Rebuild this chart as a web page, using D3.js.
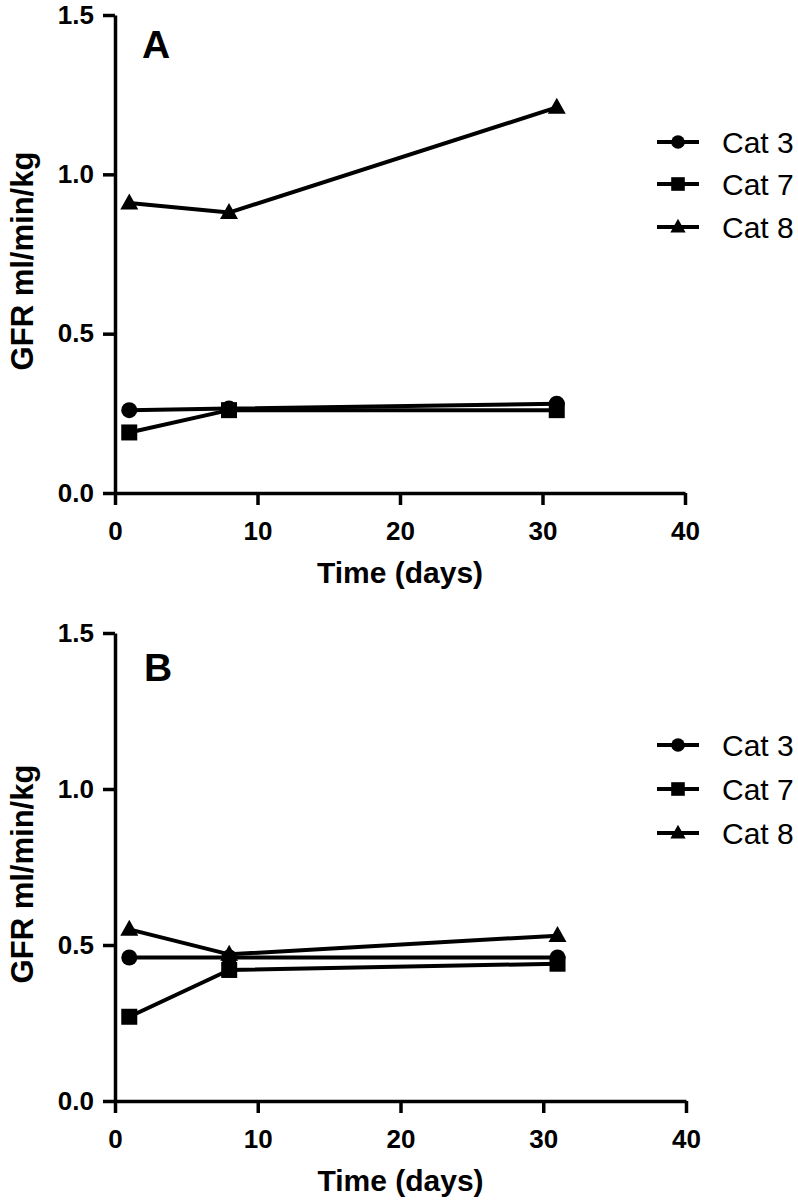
<!DOCTYPE html>
<html>
<head>
<meta charset="utf-8">
<script src="https://cdn.jsdelivr.net/npm/d3@7"></script>
<style>
  html, body { margin: 0; padding: 0; background: #fff; }
  svg { display: block; }
  text { font-family: "Liberation Sans", Arial, Helvetica, sans-serif; fill: #000; }
</style>
</head>
<body>
<svg id="chart" width="798" height="1200"></svg>
<script>
// ---- Data ----
const days = [1, 8, 31];
const seriesNames = ["Cat 3", "Cat 7", "Cat 8"];
const seriesSymbols = ["circle", "square", "triangle"];

const panelA_cat3 = [0.26, 0.265, 0.28];
const panelA_cat7 = [0.19, 0.26, 0.26];
const panelA_cat8 = [0.91, 0.88, 1.21];

const panelB_cat3 = [0.46, 0.46, 0.46];
const panelB_cat7 = [0.27, 0.42, 0.44];
const panelB_cat8 = [0.55, 0.47, 0.53];

const xTicks = [0, 10, 20, 30, 40];
const yTicks = [0, 0.5, 1.0, 1.5];
const panelLabels = ["A", "B"];
const xTitle = "Time (days)";
const yTitle = "GFR ml/min/kg";

// ---- Layout ----
const panels = [
  { label: panelLabels[0], series: [panelA_cat3, panelA_cat7, panelA_cat8],
    top: 15, bottom: 493, left: 115, right: 685,
    labelX: 142, labelY: 58, legendY: [142, 184, 227] },
  { label: panelLabels[1], series: [panelB_cat3, panelB_cat7, panelB_cat8],
    top: 633, bottom: 1101, left: 115, right: 686,
    labelX: 144, labelY: 681, legendY: [745, 789, 833] }
];

const svg = d3.select("#chart");

function drawSymbol(g, type, cx, cy, scale) {
  scale = scale || 1;
  if (type === "circle") {
    g.append("circle").attr("cx", cx).attr("cy", cy).attr("r", 8 * scale).attr("fill", "#000");
  } else if (type === "square") {
    const s = 16 * scale;
    g.append("rect").attr("x", cx - s / 2).attr("y", cy - s / 2).attr("width", s).attr("height", s).attr("fill", "#000");
  } else {
    const w = 18 * scale, h = 16 * scale;
    g.append("path")
      .attr("d", `M${cx},${cy - h * 0.6} L${cx + w / 2},${cy + h * 0.4} L${cx - w / 2},${cy + h * 0.4} Z`)
      .attr("fill", "#000");
  }
}

panels.forEach(p => {
  const g = svg.append("g");
  const x = d3.scaleLinear().domain([0, 40]).range([p.left, p.right]);
  const y = d3.scaleLinear().domain([0, 1.5]).range([p.bottom, p.top]);

  // axes
  const yAxis = d3.axisLeft(y).tickValues(yTicks).tickFormat(d3.format(".1f"))
    .tickSizeInner(12).tickSizeOuter(0).tickPadding(9);
  const xAxis = d3.axisBottom(x).tickValues(xTicks).tickFormat(d3.format("d"))
    .tickSizeInner(12).tickSizeOuter(0).tickPadding(17);

  const ya = g.append("g").attr("transform", `translate(${p.left},0)`).call(yAxis);
  const xa = g.append("g").attr("transform", `translate(0,${p.bottom})`).call(xAxis);
  [ya, xa].forEach(a => {
    a.selectAll("path.domain").attr("stroke", "#000").attr("stroke-width", 3.5);
    a.selectAll(".tick line").attr("stroke", "#000").attr("stroke-width", 3.5);
    a.selectAll(".tick text")
      .attr("font-family", '"Liberation Sans", Arial, sans-serif')
      .attr("font-weight", "bold").attr("font-size", 26).attr("fill", "#000");
  });

  // axis titles
  g.append("text")
    .attr("x", (p.left + p.right) / 2)
    .attr("y", p.bottom + 90)
    .attr("text-anchor", "middle")
    .attr("font-weight", "bold").attr("font-size", 30)
    .text(xTitle);

  g.append("text")
    .attr("transform", `translate(33,${(p.top + p.bottom) / 2 + 7}) rotate(-90)`)
    .attr("text-anchor", "middle")
    .attr("font-weight", "bold").attr("font-size", 31)
    .text(yTitle);

  // panel label
  g.append("text").attr("x", p.labelX).attr("y", p.labelY)
    .attr("font-weight", "bold").attr("font-size", 39).text(p.label);

  // lines
  const line = d3.line().x((d, i) => x(days[i])).y(d => y(d));
  p.series.forEach(vals => {
    g.append("path").datum(vals).attr("d", line)
      .attr("fill", "none").attr("stroke", "#000").attr("stroke-width", 4)
      .attr("stroke-linejoin", "round");
  });
  // markers
  p.series.forEach((vals, si) => {
    vals.forEach((v, i) => drawSymbol(g, seriesSymbols[si], x(days[i]), y(v)));
  });

  // legend
  seriesNames.forEach((name, si) => {
    const ly = p.legendY[si];
    g.append("line").attr("x1", 657).attr("x2", 699).attr("y1", ly).attr("y2", ly)
      .attr("stroke", "#000").attr("stroke-width", 4);
    drawSymbol(g, seriesSymbols[si], 678, ly, 0.85);
    g.append("text").attr("x", 722).attr("y", ly).attr("dy", "0.35em")
      .attr("font-size", 30).text(name);
  });
});
</script>
</body>
</html>
